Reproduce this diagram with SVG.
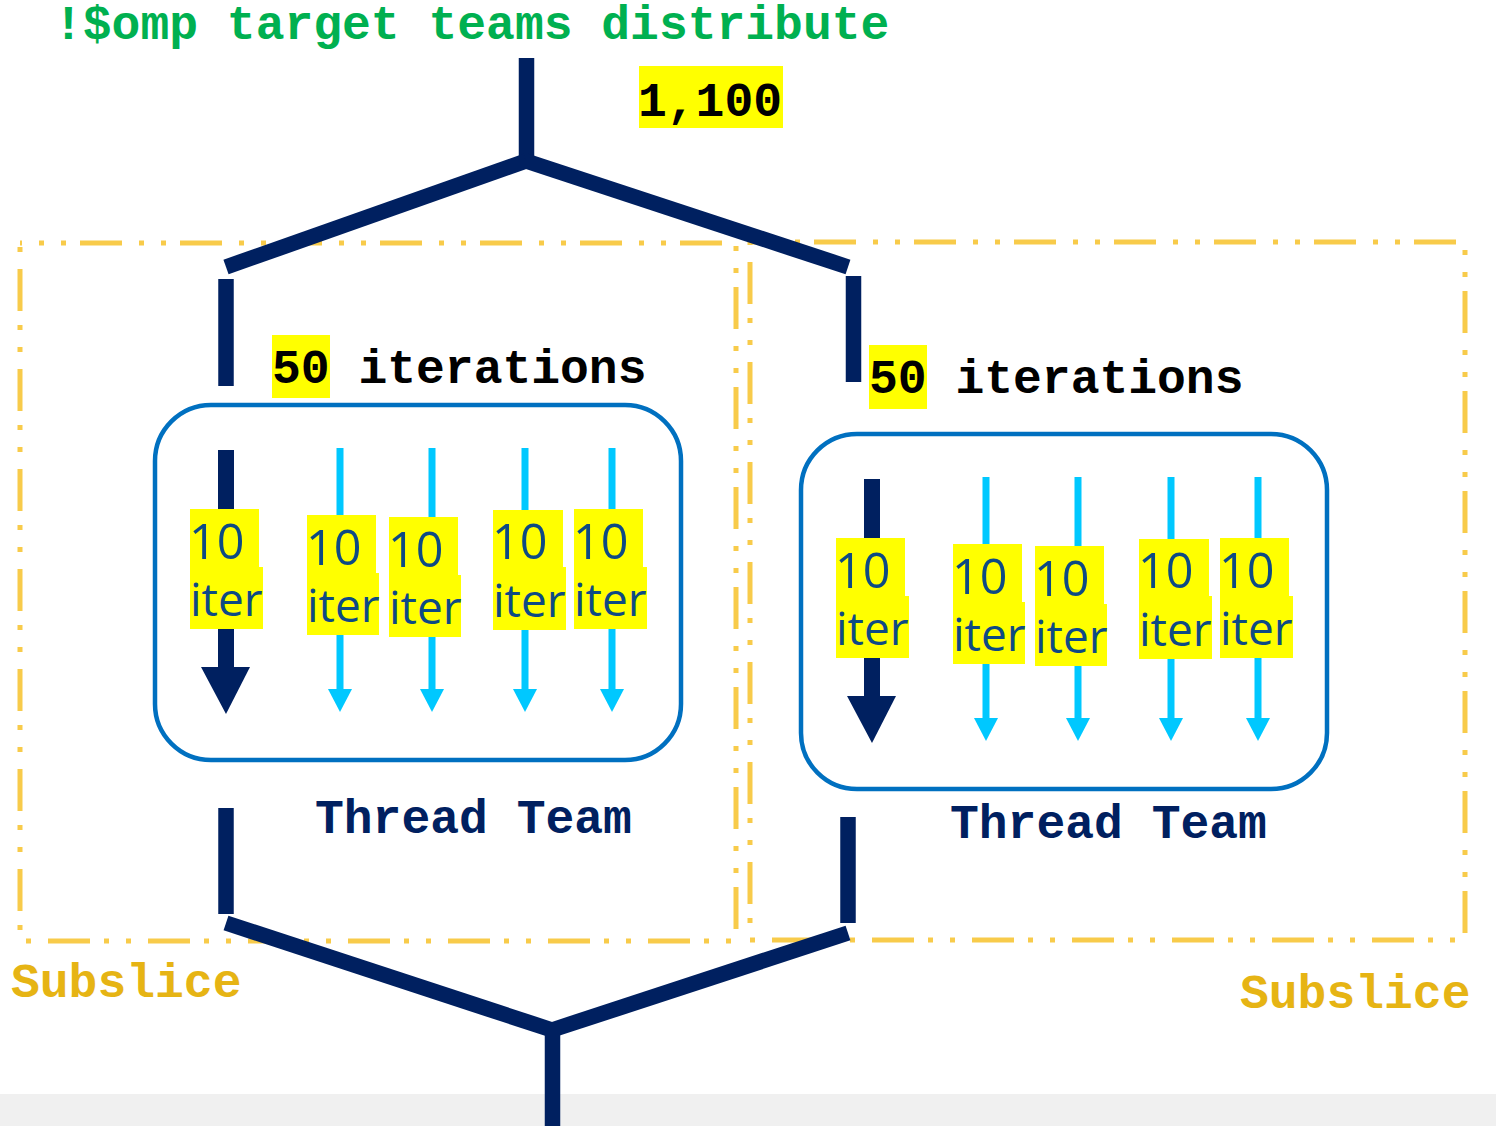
<svg xmlns="http://www.w3.org/2000/svg" width="1496" height="1126" viewBox="0 0 1496 1126">
<style>
.mono{font-family:"Liberation Mono","Courier New",monospace;font-weight:bold;font-size:48px}
.code{fill:#00B050}
.num{fill:#000000}
.tt{fill:#002060}
.sub{fill:#E6B414}
.hl{fill:#FFFF00}
.slice{fill:none;stroke:#F8CB4A;stroke-width:5;stroke-dasharray:42 17 5 17 5 14;stroke-linejoin:round}
.team{fill:none;stroke:#0070C0;stroke-width:4.5}
.nv{stroke:#002060;stroke-width:15.5;fill:none}
.lbl{font-family:"Open Sans","Noto Sans",sans-serif;font-size:46px;fill:#0E4A84}
.big{font-size:48.5px}
.blue{fill:#00C8FF}
.navy{fill:#002060}
</style>
<rect x="0" y="0" width="1496" height="1126" fill="#FFFFFF"/>
<rect x="0" y="1094" width="1496" height="32" fill="#F0F0F0"/>

<g id="title">
<text class="mono code" x="54" y="39">!$omp target teams distribute</text>
</g>
<g id="total">
<rect class="hl" x="639" y="66" width="144" height="62"/>
<text class="mono num" x="638" y="116">1,100</text>
</g>

<g id="subslice-left">
<rect class="slice" x="20" y="243" width="716" height="698" stroke-dashoffset="40"/>
<text class="mono sub" x="11" y="997">Subslice</text>
</g>
<g id="subslice-right">
<rect class="slice" x="750" y="242" width="715" height="698" stroke-dashoffset="36"/>
<text class="mono sub" x="1240" y="1008">Subslice</text>
</g>

<g id="iters-left">
<rect class="hl" x="272" y="335" width="58" height="63"/>
<text class="mono num" x="272" y="383">50 iterations</text>
</g>
<g id="iters-right">
<rect class="hl" x="869" y="345" width="58" height="64"/>
<text class="mono num" x="869" y="393">50 iterations</text>
</g>

<g id="team-left">
<rect class="team" x="155" y="405" width="526" height="355" rx="56" ry="56"/>
<rect class="navy" x="218" y="450" width="16" height="218"/>
<polygon class="navy" points="201,667 250,667 226,714"/>
<rect class="blue" x="336.5" y="448" width="7" height="242"/>
<polygon class="blue" points="328,689 352,689 340,712"/>
<rect class="blue" x="428.5" y="448" width="7" height="242"/>
<polygon class="blue" points="420,689 444,689 432,712"/>
<rect class="blue" x="521.5" y="448" width="7" height="242"/>
<polygon class="blue" points="513,689 537,689 525,712"/>
<rect class="blue" x="608.5" y="448" width="7" height="242"/>
<polygon class="blue" points="600,689 624,689 612,712"/>
<rect class="hl" x="190" y="509" width="69" height="58"/><rect class="hl" x="190" y="567" width="73" height="62"/>
<text class="lbl big" x="189" y="559">10</text><text class="lbl" x="190" y="616">iter</text>
<rect class="hl" x="307" y="515" width="69" height="58"/><rect class="hl" x="307" y="573" width="72" height="62"/>
<text class="lbl big" x="306" y="565">10</text><text class="lbl" x="307" y="622">iter</text>
<rect class="hl" x="389" y="517" width="69" height="58"/><rect class="hl" x="389" y="575" width="72" height="62"/>
<text class="lbl big" x="388" y="567">10</text><text class="lbl" x="389" y="624">iter</text>
<rect class="hl" x="493" y="510" width="70" height="57"/><rect class="hl" x="493" y="567" width="73" height="63"/>
<text class="lbl big" x="492" y="559">10</text><text class="lbl" x="493" y="617">iter</text>
<rect class="hl" x="574" y="509" width="69" height="58"/><rect class="hl" x="574" y="567" width="73" height="62"/>
<text class="lbl big" x="573" y="559">10</text><text class="lbl" x="574" y="616">iter</text>
<text class="mono tt" x="315" y="833">Thread Team</text>
</g>

<g id="team-right" transform="translate(646,29)">
<rect class="team" x="155" y="405" width="526" height="355" rx="56" ry="56"/>
<rect class="navy" x="218" y="450" width="16" height="218"/>
<polygon class="navy" points="201,667 250,667 226,714"/>
<rect class="blue" x="336.5" y="448" width="7" height="242"/>
<polygon class="blue" points="328,689 352,689 340,712"/>
<rect class="blue" x="428.5" y="448" width="7" height="242"/>
<polygon class="blue" points="420,689 444,689 432,712"/>
<rect class="blue" x="521.5" y="448" width="7" height="242"/>
<polygon class="blue" points="513,689 537,689 525,712"/>
<rect class="blue" x="608.5" y="448" width="7" height="242"/>
<polygon class="blue" points="600,689 624,689 612,712"/>
<rect class="hl" x="190" y="509" width="69" height="58"/><rect class="hl" x="190" y="567" width="73" height="62"/>
<text class="lbl big" x="189" y="559">10</text><text class="lbl" x="190" y="616">iter</text>
<rect class="hl" x="307" y="515" width="69" height="58"/><rect class="hl" x="307" y="573" width="72" height="62"/>
<text class="lbl big" x="306" y="565">10</text><text class="lbl" x="307" y="622">iter</text>
<rect class="hl" x="389" y="517" width="69" height="58"/><rect class="hl" x="389" y="575" width="72" height="62"/>
<text class="lbl big" x="388" y="567">10</text><text class="lbl" x="389" y="624">iter</text>
<rect class="hl" x="493" y="510" width="70" height="57"/><rect class="hl" x="493" y="567" width="73" height="63"/>
<text class="lbl big" x="492" y="559">10</text><text class="lbl" x="493" y="617">iter</text>
<rect class="hl" x="574" y="509" width="69" height="58"/><rect class="hl" x="574" y="567" width="73" height="62"/>
<text class="lbl big" x="573" y="559">10</text><text class="lbl" x="574" y="616">iter</text>
<text class="mono tt" x="304" y="809">Thread Team</text>
</g>

<g id="connectors" class="nv">
<line x1="526.5" y1="58" x2="526.5" y2="161"/>
<line x1="526" y1="161" x2="226" y2="267"/>
<line x1="526" y1="161" x2="848" y2="267"/>
<line x1="226" y1="279" x2="226" y2="386"/>
<line x1="853.5" y1="276" x2="853.5" y2="382"/>
<line x1="226" y1="808" x2="226" y2="914"/>
<line x1="848" y1="817" x2="848" y2="923"/>
<line x1="226" y1="923" x2="552" y2="1030"/>
<line x1="848" y1="933" x2="552" y2="1030"/>
<line x1="552.5" y1="1028" x2="552.5" y2="1126"/>
</g>
</svg>
